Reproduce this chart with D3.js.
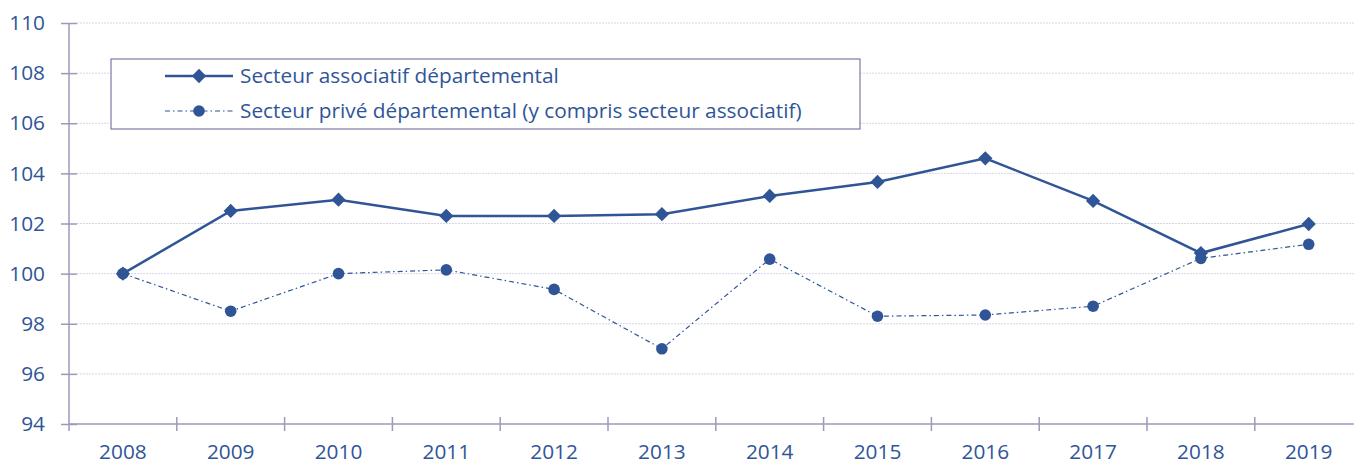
<!DOCTYPE html>
<html>
<head>
<meta charset="utf-8">
<script src="https://cdn.jsdelivr.net/npm/d3@7"></script>
<style>
  body { margin: 0; background: #fff; }
  svg { display: block; font-family: "Open Sans", sans-serif; }
</style>
</head>
<body>
<div id="chart"></div>
<script>
const years = ['2008', '2009', '2010', '2011', '2012', '2013', '2014', '2015', '2016', '2017', '2018', '2019'];
const associatif = [100, 102.5, 102.95, 102.3, 102.3, 102.37, 103.1, 103.66, 104.6, 102.9, 100.82, 101.98];
const prive = [100, 98.5, 100, 100.15, 99.37, 97.0, 100.58, 98.3, 98.35, 98.7, 100.61, 101.17];
const yTicks = [94, 96, 98, 100, 102, 104, 106, 108, 110];
const seriesNames = ['Secteur associatif départemental', 'Secteur privé départemental (y compris secteur associatif)'];

const W = 1354, H = 463;
const blue = '#2F5597';
const axisColor = '#9A9ABA';
const textColor = '#2F5597';
const fontSize = '20.8px';

const x = d3.scaleBand().domain(years).range([69, 69 + 12 * 107.8]).padding(0);
const y = d3.scaleLinear().domain([94, 110]).range([424, 23]);

const svg = d3.select('#chart').append('svg')
    .attr('width', W)
    .attr('height', H);

// gridlines
svg.append('g')
    .selectAll('line')
    .data(yTicks.filter(d => d !== 94))
    .enter().append('line')
    .attr('x1', 77)
    .attr('x2', W)
    .attr('y1', d => y(d))
    .attr('y2', d => y(d))
    .attr('stroke', '#D6D6E6')
    .attr('stroke-width', 1)
    .attr('stroke-dasharray', '2,1');

// y axis
const yAxis = svg.append('g')
    .attr('transform', 'translate(69,0)')
    .call(d3.axisLeft(y).tickValues(yTicks).tickSize(8).tickPadding(16));
yAxis.select('.domain').remove();
yAxis.selectAll('.tick line')
    .attr('x1', -8).attr('x2', 8)
    .attr('stroke', axisColor).attr('stroke-width', 1.5);
yAxis.selectAll('.tick text')
    .attr('fill', textColor)
    .style('font-size', fontSize)
    .style('font-family', '"Open Sans", sans-serif');
svg.append('line')
    .attr('x1', 69).attr('x2', 69)
    .attr('y1', y(110)).attr('y2', y(94) + 7)
    .attr('stroke', axisColor).attr('stroke-width', 1.5);

// x axis
const xAxis = svg.append('g')
    .attr('transform', `translate(0,${y(94)})`)
    .call(d3.axisBottom(x).tickSize(0).tickPadding(20));
xAxis.select('.domain')
    .attr('d', `M69,0H${W}`)
    .attr('stroke', axisColor).attr('stroke-width', 1.5);
xAxis.selectAll('.tick text')
    .attr('fill', textColor)
    .style('font-size', fontSize)
    .style('font-family', '"Open Sans", sans-serif');
xAxis.selectAll('line.boundary')
    .data(years.slice(1))
    .enter().append('line')
    .attr('class', 'boundary')
    .attr('x1', d => x(d)).attr('x2', d => x(d))
    .attr('y1', -7).attr('y2', 7)
    .attr('stroke', axisColor).attr('stroke-width', 1.5);

const cx = d => x(d) + x.bandwidth() / 2;

// series 2: dash-dot with circles
const line2 = d3.line().x((d, i) => cx(years[i])).y(d => y(d));
svg.append('path')
    .datum(prive)
    .attr('d', line2)
    .attr('fill', 'none')
    .attr('stroke', blue)
    .attr('stroke-width', 1.2)
    .attr('stroke-dasharray', '5,3,1.5,3');
svg.selectAll('circle.prive')
    .data(prive)
    .enter().append('circle')
    .attr('class', 'prive')
    .attr('cx', (d, i) => cx(years[i]))
    .attr('cy', d => y(d))
    .attr('r', 5.8)
    .attr('fill', blue);

// series 1: solid with diamonds
const line1 = d3.line().x((d, i) => cx(years[i])).y(d => y(d));
svg.append('path')
    .datum(associatif)
    .attr('d', line1)
    .attr('fill', 'none')
    .attr('stroke', blue)
    .attr('stroke-width', 2.5);
const diamond = d3.symbol().type(d3.symbolDiamond2).size(130);
svg.selectAll('path.assoc')
    .data(associatif)
    .enter().append('path')
    .attr('class', 'assoc')
    .attr('d', diamond)
    .attr('transform', (d, i) => `translate(${cx(years[i])},${y(d)})`)
    .attr('fill', blue);

// legend
const legend = svg.append('g');
legend.append('rect')
    .attr('x', 111).attr('y', 59)
    .attr('width', 749).attr('height', 70)
    .attr('fill', '#fff')
    .attr('stroke', '#7A7AA6')
    .attr('stroke-width', 1.2);

const items = legend.selectAll('g.item')
    .data(seriesNames)
    .enter().append('g')
    .attr('class', 'item')
    .attr('transform', (d, i) => `translate(0,${76 + i * 35})`);

items.append('line')
    .attr('x1', 165).attr('x2', 233)
    .attr('stroke', blue)
    .attr('stroke-width', (d, i) => i === 0 ? 2.5 : 1.2)
    .attr('stroke-dasharray', (d, i) => i === 0 ? null : '5,3,1.5,3');
items.filter((d, i) => i === 0).append('path')
    .attr('d', diamond)
    .attr('transform', 'translate(199,0)')
    .attr('fill', blue);
items.filter((d, i) => i === 1).append('circle')
    .attr('cx', 199).attr('r', 5.8)
    .attr('fill', blue);
items.append('text')
    .attr('x', 240)
    .attr('dy', '0.35em')
    .attr('fill', textColor)
    .style('font-size', fontSize)
    .text(d => d);
</script>
</body>
</html>
